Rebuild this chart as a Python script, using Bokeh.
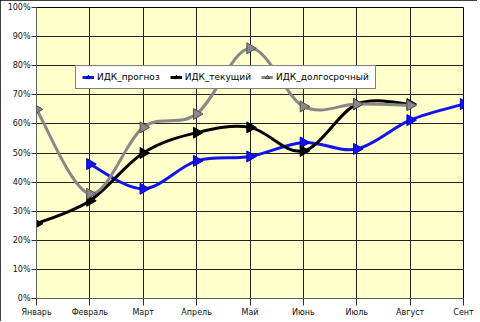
import numpy as np
from bokeh.plotting import figure
from bokeh.models import FixedTicker, Legend, LegendItem, Range1d, ColumnDataSource
from bokeh.embed import file_html
from bokeh.resources import INLINE

# ---- data ----
months = ["Январь", "Февраль", "Март", "Апрель", "Май", "Июнь", "Июль", "Август", "Сент"]
forecast = [None, 46.2, 37.7, 47.3, 48.8, 53.6, 51.4, 61.3, 66.8]
current = [25.7, 33.6, 50.0, 57.0, 58.8, 50.7, 66.8, 66.8, None]
longterm = [65.0, 36.0, 58.8, 63.4, 86.0, 66.0, 66.8, 66.4, None]
series_names = ["ИДК_прогноз", "ИДК_текущий", "ИДК_долгосрочный"]
series_colors = ["#1414EE", "#000000", "#888888"]
marker_edges = ["#0000C0", "#000000", "#505050"]
y_ticks = list(range(0, 101, 10))
y_labels = [f"{t}%" for t in y_ticks]

FONT = "DejaVu Sans"

p = figure(frame_width=427, frame_height=291, output_backend="svg", toolbar_location=None,
           x_range=Range1d(0, len(months) - 1), y_range=Range1d(0, 100),
           min_border_left=36, min_border_right=14, min_border_top=7, min_border_bottom=23)
p.styles = {"outline": "1px solid black", "outline-offset": "-1px"}
p.background_fill_color = "#FFFFCC"
p.border_fill_color = "white"
p.outline_line_color = "black"
p.outline_line_width = 1

p.xaxis.ticker = FixedTicker(ticks=list(range(len(months))))
p.xaxis.major_label_overrides = {i: m for i, m in enumerate(months)}
p.yaxis.ticker = FixedTicker(ticks=y_ticks)
p.yaxis.major_label_overrides = {t: l for t, l in zip(y_ticks, y_labels)}
p.xgrid.ticker = FixedTicker(ticks=list(range(len(months))))
p.ygrid.ticker = FixedTicker(ticks=y_ticks)
for g in (p.xgrid, p.ygrid):
    g.grid_line_color = "#222222"
    g.grid_line_width = 1

for ax in (p.xaxis, p.yaxis):
    ax.axis_line_color = "#606060"
    ax.major_tick_line_color = "#303030"
    ax.minor_tick_line_color = None
    ax.major_tick_in = 0
    ax.major_label_text_font = FONT
    ax.major_label_text_color = "#111111"
p.yaxis.major_tick_out = 5
p.yaxis.major_label_standoff = 1
p.yaxis.major_label_text_font_size = "8px"
p.xaxis.major_tick_out = 7
p.xaxis.major_label_standoff = 2
p.xaxis.major_label_text_font_size = "8px"


def smooth_segments(xs, ys):
    n = len(xs)
    seg = {k: [] for k in ("x0", "y0", "x1", "y1", "cx0", "cy0", "cx1", "cy1")}
    for i in range(n - 1):
        a = i - 1 if i > 0 else i
        b = i + 2 if i + 2 < n else i + 1
        seg["x0"].append(xs[i]); seg["y0"].append(ys[i])
        seg["x1"].append(xs[i + 1]); seg["y1"].append(ys[i + 1])
        seg["cx0"].append(xs[i] + (xs[i + 1] - xs[a]) / 6)
        seg["cy0"].append(ys[i] + (ys[i + 1] - ys[a]) / 6)
        seg["cx1"].append(xs[i + 1] - (xs[b] - xs[i]) / 6)
        seg["cy1"].append(ys[i + 1] - (ys[b] - ys[i]) / 6)
    return seg


nan_src = dict(x=[np.nan, np.nan], y=[np.nan, np.nan])
items = []
for name, vals, col, edge in zip(series_names, [forecast, current, longterm], series_colors, marker_edges):
    xs = [i for i, v in enumerate(vals) if v is not None]
    ys = [v for v in vals if v is not None]
    seg = smooth_segments(xs, ys)
    p.bezier(line_color=col, line_width=3, **seg)
    leg_src = ColumnDataSource(nan_src)
    leg_line = p.line("x", "y", source=leg_src, line_color=col, line_width=3)
    leg_mk = p.scatter("x", "y", source=leg_src, marker="triangle", size=7,
                       fill_color=col, line_color=edge)
    p.scatter(xs, ys, marker="triangle", angle=-np.pi / 2, size=11,
              fill_color=col, line_color=edge, line_width=1)
    items.append(LegendItem(label=name, renderers=[leg_line, leg_mk]))

legend = Legend(items=items, orientation="horizontal", location=(39, 209))
legend.label_text_font = FONT
legend.label_text_font_size = "9px"
legend.label_text_color = "black"
legend.glyph_width = 12
legend.glyph_height = 10
legend.label_standoff = 3
legend.spacing = 10
legend.padding = 6
legend.margin = 0
legend.border_line_color = "black"
legend.border_line_width = 1
legend.background_fill_color = "white"
legend.background_fill_alpha = 1
legend.label_height = 10
p.add_layout(legend, "center")

open("out.html", "w").write(file_html(p, INLINE))
